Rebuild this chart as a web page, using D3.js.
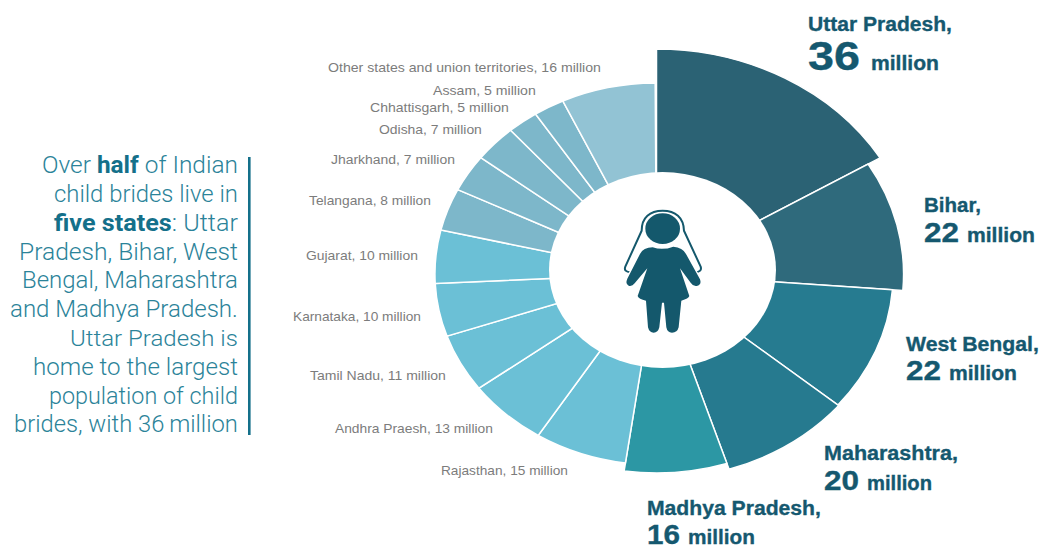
<!DOCTYPE html>
<html>
<head>
<meta charset="utf-8">
<script src="https://cdnjs.cloudflare.com/ajax/libs/d3/7.8.5/d3.min.js"></script>
<style>
  html, body { margin: 0; padding: 0; background: #fff; }
  svg { display: block; }
  text { font-family: "Liberation Sans", sans-serif; }
</style>
</head>
<body>
<svg id="chart" width="1041" height="550"></svg>
<script>
// Child brides by Indian state, in millions
const states = ["Uttar Pradesh", "Bihar", "West Bengal", "Maharashtra", "Madhya Pradesh",
  "Rajasthan", "Andhra Praesh", "Tamil Nadu", "Karnataka", "Gujarat", "Telangana",
  "Jharkhand", "Odisha", "Chhattisgarh", "Assam", "Other states and union territories"];
const values = [36, 22, 22, 20, 16, 15, 13, 11, 10, 10, 8, 7, 7, 5, 5, 16];

// Sidebar copy: each line is a list of [text, isBold] runs
const noteLines = [
  [["Over ", 0], ["half", 1], [" of Indian", 0]],
  [["child brides live in", 0]],
  [["five states", 1], [": Uttar", 0]],
  [["Pradesh, Bihar, West", 0]],
  [["Bengal, Maharashtra", 0]],
  [["and Madhya Pradesh.", 0]],
  [["Uttar Pradesh is", 0]],
  [["home to the largest", 0]],
  [["population of child", 0]],
  [["brides, with 36\u2009million", 0]]
];

// ---- layout and styling ----
const svg = d3.select("#chart");
const centre = [656.5, 274];
const stretchX = 1.16;
const turn = 0.014;        // the ring is turned slightly clockwise
const topGap = 0.006;      // extra white seam at twelve o'clock

const sliceColor = d3.scaleOrdinal().domain(states).range([
  "#2b6274", "#2f6a7c", "#267b90", "#267a8f", "#2c97a4",
  "#6bc0d6", "#6bc0d6", "#6bc0d6", "#6bc0d6", "#6bc0d6",
  "#7db7ca", "#7db7ca", "#7db7ca", "#7db7ca", "#7db7ca", "#92c3d4"]);
const sliceRadius = d3.scaleOrdinal().domain(states).range([
  225, 213, 204, 205, 199, 191, 191, 191, 191, 191, 191, 191, 191, 191, 191, 191]);

// Text is fitted to a width so the wide setting of the typeface carries over
function place(sel, x, y, width) {
  sel.attr("transform", function () {
    const k = width / this.getComputedTextLength();
    return `translate(${x},${y}) scale(${k},1)`;
  });
  return sel;
}

// ---- pie ----
const rows = states.map((state, i) => ({ state, value: values[i] }));
const pie = d3.pie().sort(null).value(d => d.value)
  .startAngle(turn).endAngle(2 * Math.PI + turn);
const arc = d3.arc()
  .innerRadius(0)
  .outerRadius(d => sliceRadius(d.data.state))
  .startAngle(d => d.index === 0 ? 0 : d.startAngle)
  .endAngle(d => Math.min(d.endAngle, 2 * Math.PI - topGap));

const pieG = svg.append("g")
  .attr("transform", `translate(${centre[0]},${centre[1]}) scale(${stretchX},1)`);

pieG.selectAll("path")
  .data(pie(rows))
  .join("path")
  .attr("d", arc)
  .attr("fill", d => sliceColor(d.data.state))
  .attr("stroke", "#fff")
  .attr("stroke-width", 1.5)
  .attr("vector-effect", "non-scaling-stroke");

// Central hole sits slightly off the pie's own centre
svg.append("ellipse")
  .attr("cx", 662.5).attr("cy", 270)
  .attr("rx", 113.5).attr("ry", 98)
  .attr("fill", "#fff");

// ---- bride icon ----
const icon = svg.append("g").attr("transform", "translate(540,190) scale(0.3333)");
const iconColor = "#14586c";
icon.append("path")
  .attr("d", "M272 247 Q250 245 256 230 L305 122 C305 82 330 62 368 62 C406 62 431 82 432 122 L482 230 Q487 245 466 247")
  .attr("fill", "none").attr("stroke", iconColor).attr("stroke-width", 6);
const bodyPath = "M338 172 Q368 182 400 170 Q428 172 438 192 L480 268 Q486 284 470 288 Q460 290 452 278 L420 235 L448 318 Q446 326 424 332 L416 412 Q412 428 396 428 Q382 428 379 412 L372 338 L366 338 L358 412 Q354 428 341 428 Q328 428 324 412 L318 332 Q296 328 293 318 L322 235 L284 280 Q276 290 266 287 Q255 282 262 266 L300 192 Q310 172 338 172 Z";
icon.append("path").attr("d", bodyPath)
  .attr("fill", iconColor).attr("stroke", "#fff").attr("stroke-width", 8).attr("paint-order", "stroke");
icon.append("ellipse")
  .attr("cx", 368).attr("cy", 116).attr("rx", 52).attr("ry", 46)
  .attr("fill", iconColor);

// ---- small state labels: x, baseline, width ----
const smallBoxes = [
  [441, 475, 127], [335, 433, 158], [310, 380, 136], [293, 321, 128], [306, 260, 112],
  [309, 205, 122], [331, 164, 124], [379, 134, 103], [370, 112, 139], [433, 95, 103], [328, 72, 273]
];
svg.append("g").selectAll("text")
  .data(rows.slice(5))
  .join("text")
  .text(d => `${d.state}, ${d.value} million`)
  .attr("font-size", 12.5)
  .attr("fill", "#7c7c7c")
  .each(function (d, i) {
    const b = smallBoxes[i];
    place(d3.select(this), b[0], b[1], b[2]);
  });

// ---- large state labels ----
const bigBoxes = [
  { x: 808, nameY: 31,  nameW: 144, numY: 70,  numW: 52, numSize: 40, unitX: 871, unitW: 68 },
  { x: 924, nameY: 212, nameW: 57,  numY: 242, numW: 35, numSize: 27, unitX: 967, unitW: 68 },
  { x: 906, nameY: 351, nameW: 133, numY: 380, numW: 35, numSize: 27, unitX: 949, unitW: 68 },
  { x: 824, nameY: 460, nameW: 134, numY: 490, numW: 35, numSize: 27, unitX: 867, unitW: 65 },
  { x: 647, nameY: 515, nameW: 174, numY: 544, numW: 33, numSize: 27, unitX: 688, unitW: 67 }
];
const bigColor = "#15586f";
rows.slice(0, 5).forEach((d, i) => {
  const b = bigBoxes[i];
  const g = svg.append("g").attr("font-weight", "bold")
    .attr("fill", bigColor).attr("stroke", bigColor).attr("stroke-width", 0.35);
  place(g.append("text").text(`${d.state},`).attr("font-size", 20.5), b.x, b.nameY, b.nameW);
  place(g.append("text").text(d.value).attr("font-size", b.numSize), b.x, b.numY, b.numW);
  place(g.append("text").text("million").attr("font-size", 20), b.unitX, b.numY, b.unitW);
});

// ---- sidebar note ----
const noteStarts = [42, 54, 54, 19, 22, 10, 70, 33, 49, 14];
const noteBaselines = [173, 202, 231, 260, 288, 317, 346, 375, 404, 432];
const noteRight = 238;
const noteG = svg.append("g").attr("fill", "#2b8399");
noteLines.forEach((runs, i) => {
  const t = noteG.append("text").attr("font-size", 23).style("font-family", "Roboto, sans-serif").attr("font-weight", 300);
  runs.forEach(([s, bold]) => {
    t.append("tspan").text(s)
      .attr("font-weight", bold ? 700 : 300)
      .attr("fill", bold ? "#14708a" : null);
  });
  place(t, noteStarts[i], noteBaselines[i], noteRight - noteStarts[i]);
});
svg.append("rect")
  .attr("x", 248).attr("y", 157).attr("width", 2.6).attr("height", 278)
  .attr("fill", "#14708a");
</script>
</body>
</html>
